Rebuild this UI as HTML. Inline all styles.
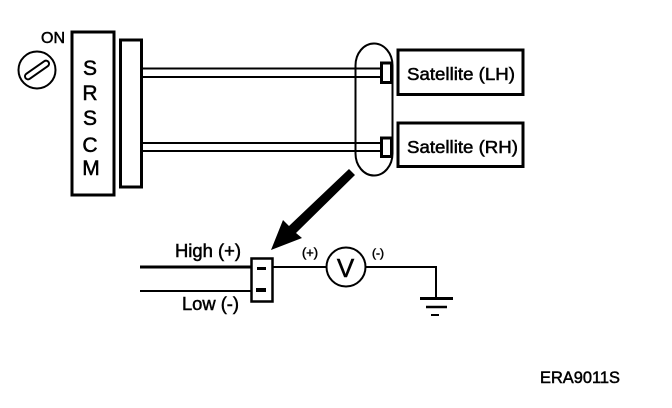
<!DOCTYPE html>
<html>
<head>
<meta charset="utf-8">
<style>
html,body{margin:0;padding:0;background:#fff;width:672px;height:408px;overflow:hidden}
svg{display:block}
text{font-family:"Liberation Sans",sans-serif;fill:#000;stroke:#000;stroke-width:.5}
</style>
</head>
<body>
<svg width="672" height="408" viewBox="0 0 672 408" xmlns="http://www.w3.org/2000/svg">
<rect width="672" height="408" fill="#fff"/>
<g fill="none" stroke="#000">
  <!-- knob -->
  <circle cx="37" cy="70" r="18.500" stroke-width="2"/>
  <g transform="rotate(-35 37 70)"><rect x="23" y="67" width="28" height="6" rx="3" stroke-width="2"/></g>
  <!-- SRSCM -->
  <rect x="72" y="32" width="42" height="163" stroke-width="3"/>
  <rect x="120.500" y="40" width="21" height="147" stroke-width="3"/>
  <!-- wires -->
  <path d="M142 68.500H381M142 77H381M142 143H381M142 151H381" stroke-width="2"/>
  <!-- oval -->
  <rect x="355.500" y="43.500" width="37" height="132" rx="18.500" ry="22" stroke-width="2"/>
  <!-- connectors -->
  <rect x="381.500" y="63" width="10" height="19.500" stroke-width="3"/>
  <rect x="381.500" y="138" width="10" height="18.500" stroke-width="3"/>
  <!-- satellites -->
  <rect x="398" y="50" width="125" height="44.500" stroke-width="3"/>
  <rect x="398" y="123" width="125" height="43.500" stroke-width="3"/>
  <!-- lower wires -->
  <path d="M140 267H251" stroke-width="3"/>
  <path d="M140 291H251" stroke-width="2"/>
  <rect x="251.500" y="258.500" width="21" height="43" stroke-width="2.500"/>
  <path d="M273 267H326M366 267H436V298" stroke-width="2"/>
  <circle cx="346" cy="267" r="19.500" stroke-width="2"/>
  <path d="M420 298.500H453" stroke-width="3"/>
  <path d="M426 307H447" stroke-width="2.500"/>
  <path d="M431 315H439" stroke-width="2"/>
</g>
<!-- marks -->
<rect x="257" y="267" width="9" height="3" fill="#000"/>
<rect x="256" y="288" width="10" height="4" fill="#000"/>
<!-- arrow -->
<polygon points="349,169 355,175 296,233 302,238 271,250 283,220 289,226" fill="#000"/>
<!-- text -->
<text x="41" y="43" font-size="16" textLength="24" lengthAdjust="spacingAndGlyphs">ON</text>
<g font-size="21" text-anchor="middle">
  <text x="90" y="75">S</text>
  <text x="90" y="100">R</text>
  <text x="90" y="125">S</text>
  <text x="90" y="152">C</text>
  <text x="91" y="175">M</text>
</g>
<text x="407" y="80" font-size="17.500" textLength="108" lengthAdjust="spacingAndGlyphs">Satellite (LH)</text>
<text x="407" y="153" font-size="17.500" textLength="111" lengthAdjust="spacingAndGlyphs">Satellite (RH)</text>
<text x="175" y="257" font-size="18" textLength="66" lengthAdjust="spacingAndGlyphs">High (+)</text>
<text x="182" y="310" font-size="18" textLength="57" lengthAdjust="spacingAndGlyphs">Low (-)</text>
<text x="302" y="257" font-size="12.500" textLength="16" lengthAdjust="spacingAndGlyphs">(+)</text>
<text x="372" y="257" font-size="12" textLength="12" lengthAdjust="spacingAndGlyphs">(-)</text>
<text x="345.500" y="277" font-size="26" text-anchor="middle">V</text>
<text x="540" y="383" font-size="16.500" textLength="80" lengthAdjust="spacingAndGlyphs">ERA9011S</text>
</svg>
</body>
</html>
